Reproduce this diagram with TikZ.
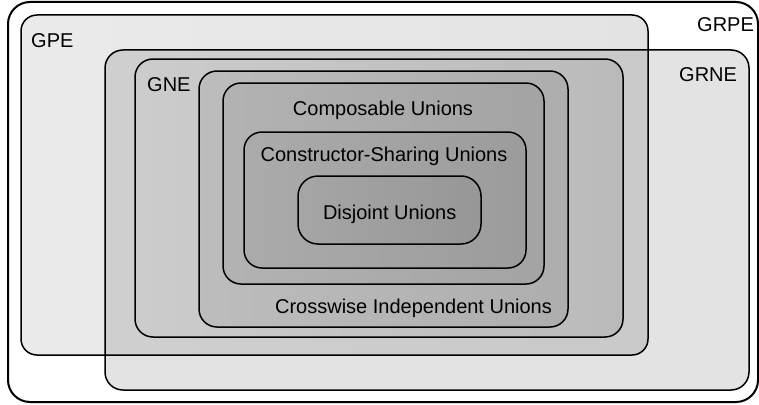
\documentclass[tikz,border=0pt]{standalone}
\usepackage{fontspec}
\setmainfont{Liberation Sans}
\begin{document}
\begin{tikzpicture}[x=1pt,y=-1pt,
  setbox/.style={draw=black, line width=1.5pt, rounded corners=#1},
  setbox/.default=18pt,
  lbl/.style={inner sep=0pt, font=\fontsize{20}{24}\selectfont, text=black},
  lblw/.style={lbl, anchor=base west},
  lblc/.style={lbl, anchor=base}]
\useasboundingbox (0,0) rectangle (759,404);
\fill[white] (0,0) rectangle (759,404);
% GRPE
\draw[setbox=22pt, line width=2pt, fill=white] (8,2) rectangle (758,402);
% GPE
\draw[setbox=16pt, left color=black!8, right color=black!11] (21,15) rectangle (648,355);
% GRNE (translucent)
\fill[black, fill opacity=0.11, rounded corners=18pt] (105,50) rectangle (749,390);
\draw[setbox] (105,50) rectangle (749,390);
% GNE
\draw[setbox, left color=black!20, right color=black!27] (135,59) rectangle (623,337);
% Crosswise
\draw[setbox, left color=black!26, right color=black!32] (199,71) rectangle (568,327);
% Composable
\draw[setbox, left color=black!30, right color=black!36] (223,83) rectangle (544,284);
% Constructor-sharing
\draw[setbox, left color=black!33, right color=black!39] (244,132) rectangle (526,268);
% Disjoint
\draw[setbox=20pt, left color=black!35, right color=black!41] (298,176) rectangle (481,244);
% labels
\node[lblw] (grpe) at (697,31.7) {GRPE};
\node[lblw] (gpe) at (31,47.5) {GPE};
\node[lblw] (grne) at (679,81.5) {GRNE};
\node[lblw] (gne) at (147,91) {GNE};
\node[lblc] (comp) at (383,115) {Composable Unions};
\node[lblc] (cons) at (384,161.7) {Constructor-Sharing Unions};
\node[lblc] (disj) at (389.7,219.3) {Disjoint Unions};
\node[lblc] (cross) at (413.5,313.3) {Crosswise Independent Unions};
\end{tikzpicture}
\end{document}
